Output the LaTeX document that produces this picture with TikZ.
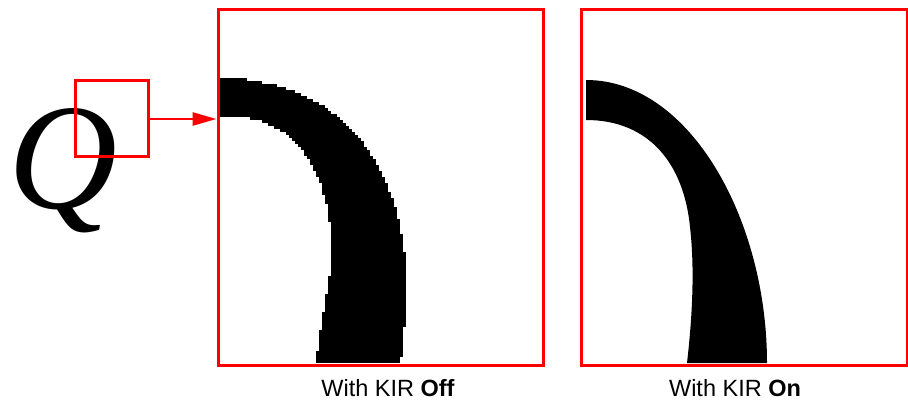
\documentclass[tikz,border=0pt]{standalone}
\usepackage{fontspec}
\setmainfont{Liberation Serif}
\newfontfamily\labelfont{Liberation Sans}
\usepackage{xcolor}
\definecolor{zoomred}{RGB}{255,0,0}
\usepackage{tikz}
\usetikzlibrary{
  arrows.meta,
  positioning
}
\tikzset{
  redbox/.style={draw=zoomred, line width=3pt, inner sep=0pt},
  capbox/.style={font=\labelfont\fontsize{23.5}{27}\selectfont, inner sep=0pt},
  zarr/.style={-{Triangle[length=24pt, width=13pt]}, draw=zoomred, line width=2.7pt},
}

\begin{document}
\begin{tikzpicture}[x=1pt, y=-1pt]
  \useasboundingbox (0,0) rectangle (908,401);

  % Glyph
  \node[font=\fontsize{151}{155}\selectfont\itshape, inner sep=0pt,
        anchor=base] (glyph) at (63,208) {Q};

  % Boxes
  \node[redbox, minimum width=73pt, minimum height=76pt] (zoombox)
    at (111.5,119) {};
  \node[redbox, minimum width=325pt, minimum height=355pt] (offbox)
    at (380.5,187.5) {};
  \node[redbox, minimum width=326pt, minimum height=355pt] (onbox)
    at (744,187.5) {};

  % Captions
  \node[capbox, below=12.5pt of offbox, xshift=7.5pt] (offcap)
    {With KIR \textbf{Off}};
  \node[capbox, below=12.5pt of onbox, xshift=-9pt] (oncap)
    {With KIR \textbf{On}};

  % Arrow
  \draw[zarr] (zoombox.east) -- (zoombox.east -| offbox.west);

  % Stroke, pixels
  \foreach \r in {0,...,94}{
    \pgfmathsetmacro{\yy}{78+\r*3}
    \pgfmathsetmacro{\xo}{\yy<=300 ? 220+187*pow(max(1-pow(max((300-\yy)/222,0.0001),2.3),0.0001),1/2.3) : 407-(\yy-300)*0.1}
    \pgfmathsetmacro{\xi}{\yy<115 ? 220 : (\yy<=270 ? 220+112*pow(max(1-pow(max((270-\yy)/155,0.0001),2.5),0.0001),1/2.5) : 330-(\yy-270)*0.16)}
    \pgfmathsetmacro{\xo}{max(220+3*round((\xo-220)/3),247)}
    \pgfmathsetmacro{\xi}{220+3*round((\xi-220)/3)}
    \fill[black] (\xi,\yy) rectangle (\xo,{min(\yy+3.3,363.5)});
  }

  % Stroke, smooth
  \fill[black] (586,80) .. controls (690,80) and (767,220) .. (767,363)
    -- (687,363) .. controls (692,320) and (695,270) .. (690,227)
    .. controls (684,165) and (650,120) .. (586,120) -- cycle;
\end{tikzpicture}
\end{document}
